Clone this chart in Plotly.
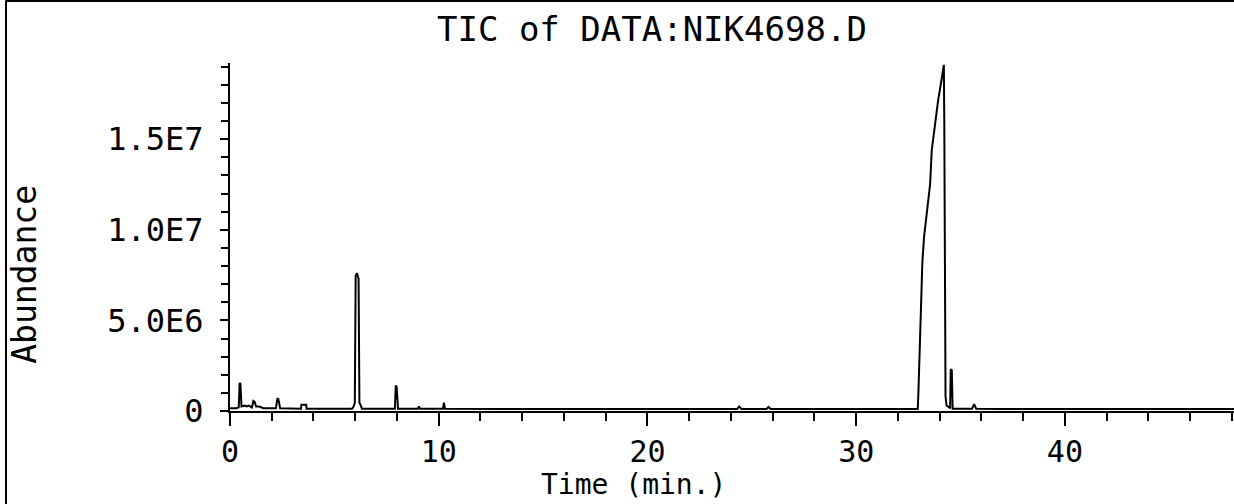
import plotly.graph_objects as go

# Retention time (min) and total ion current abundance
time_min = [0.0, 0.3, 0.42, 0.46, 0.5, 0.55, 0.7, 0.8, 0.9, 1.05, 1.12, 1.18, 1.25, 1.4, 1.6,
            2.2, 2.27, 2.32, 2.4, 3.0, 3.4, 3.42, 3.65, 3.67, 4.5,
            5.85, 5.92, 5.98, 6.02, 6.08, 6.16, 6.2, 6.25, 6.32, 7.0,
            7.9, 7.94, 7.98, 8.05, 8.6, 9.0, 9.05, 9.1, 10.2, 10.25, 10.3,
            11.0, 13.0, 15.0, 18.0, 20.0, 22.0, 24.3, 24.4, 24.5, 25.7, 25.8, 25.9,
            28.0, 30.0, 32.0, 32.95, 32.98, 33.0, 33.05, 33.1, 33.17, 33.25, 33.33,
            33.45, 33.54, 33.62, 33.75, 33.85, 33.92, 34.05, 34.12, 34.2, 34.22,
            34.25, 34.28, 34.33, 34.45, 34.5, 34.53, 34.58, 34.62, 35.0,
            35.55, 35.65, 35.75, 37.0, 40.0, 43.0, 46.0, 48.1]
abundance = [1.5e5, 1.5e5, 2.0e5, 1.55e6, 1.5e6, 2.5e5, 3.0e5, 2.5e5, 3.0e5, 2.0e5, 5.5e5, 5.0e5, 2.5e5, 2.5e5, 1.5e5,
             1.5e5, 7.0e5, 6.5e5, 1.5e5, 1.3e5, 1.3e5, 3.5e5, 3.5e5, 1.3e5, 1.2e5,
             1.2e5, 2.5e5, 4.5e5, 7.45e6, 7.6e6, 7.3e6, 4.5e5, 3.5e5, 1.3e5, 1.2e5,
             1.3e5, 1.4e6, 1.35e6, 1.3e5, 1.2e5, 1.3e5, 2.6e5, 1.3e5, 1.2e5, 4.6e5, 1.2e5,
             1.1e5, 1.1e5, 1.1e5, 1.1e5, 1.1e5, 1.1e5, 1.1e5, 2.5e5, 1.1e5, 1.1e5, 2.3e5, 1.1e5,
             1.1e5, 1.1e5, 1.1e5, 1.1e5, 1.0e6, 1.7e6, 3.0e6, 4.6e6, 8.2e6, 9.6e6, 1.04e7,
             1.15e7, 1.25e7, 1.44e7, 1.57e7, 1.66e7, 1.71e7, 1.80e7, 1.85e7, 1.91e7, 1.6e7,
             6.0e6, 8.0e5, 3.0e5, 2.0e5, 1.5e5, 2.3e6, 2.25e6, 1.3e5, 1.2e5,
             1.2e5, 3.8e5, 1.2e5, 1.1e5, 1.1e5, 1.1e5, 1.1e5, 1.1e5]

y_tick_vals = [0, 5.0e6, 1.0e7, 1.5e7]
y_tick_text = ["0", "5.0E6", "1.0E7", "1.5E7"]

title_text = "TIC of DATA:NIK4698.D"
x_title = "Time (min.)"
y_title = "Abundance"

FONT = "DejaVu Sans Mono"

fig = go.Figure()
fig.add_trace(go.Scatter(x=time_min, y=abundance, mode="lines",
                         line=dict(color="black", width=2), showlegend=False,
                         hoverinfo="x+y"))

fig.update_layout(
    width=1234, height=504,
    margin=dict(l=230, r=0, t=63, b=93),
    paper_bgcolor="white", plot_bgcolor="white",
    xaxis=dict(range=[0, 48.1], tickmode="linear", tick0=0, dtick=10,
               showline=True, linecolor="black", linewidth=2, mirror=False,
               ticks="outside", ticklen=13, tickwidth=2, tickcolor="black",
               ticklabelstandoff=0,
               showgrid=False, zeroline=False,
               tickfont=dict(family=FONT, size=30, color="black"),
               minor=dict(ticks="outside", ticklen=8, tickwidth=2, tickcolor="black",
                          tick0=0, dtick=2, showgrid=False)),
    yaxis=dict(range=[0, 1.92e7], tickmode="array", tickvals=y_tick_vals, ticktext=y_tick_text,
               showline=True, linecolor="black", linewidth=2,
               ticks="outside", ticklen=8, tickwidth=2, tickcolor="black",
               ticklabelstandoff=10,
               showgrid=False, zeroline=False,
               tickfont=dict(family=FONT, size=32, color="black"),
               minor=dict(ticks="outside", ticklen=7, tickwidth=2, tickcolor="black",
                          tickmode="linear", tick0=0, dtick=1e6, showgrid=False)),
    annotations=[
        dict(text=title_text, xref="paper", yref="paper", x=0.4203, y=1.0977,
             xanchor="center", yanchor="middle", showarrow=False,
             font=dict(family=FONT, size=34, color="black")),
        dict(text=x_title, xref="paper", yref="paper", x=0.4014, y=-0.2098,
             xanchor="center", yanchor="middle", showarrow=False,
             font=dict(family=FONT, size=28, color="black")),
        dict(text=y_title, xref="paper", yref="paper", x=-0.205, y=0.392,
             xanchor="center", yanchor="middle", showarrow=False, textangle=-90,
             font=dict(family=FONT, size=33, color="black")),
    ],
    shapes=[
        dict(type="line", xref="paper", yref="paper", x0=-0.2231, x1=-0.2231, y0=-0.3, y1=1.18,
             line=dict(color="black", width=2)),
        dict(type="line", xref="paper", yref="paper", x0=-0.2231, x1=1.0, y0=1.178, y1=1.178,
             line=dict(color="black", width=2)),
    ],
)

fig.write_html("out.html")
